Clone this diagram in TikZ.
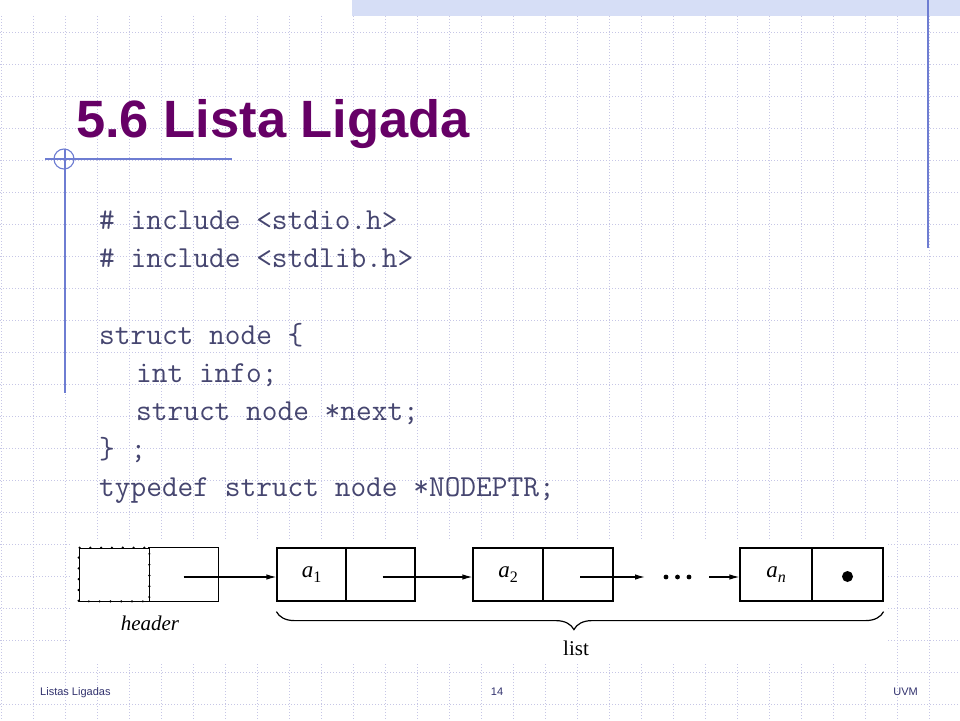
\documentclass[tikz,border=0pt]{standalone}
\usepackage{fontspec}
\setmainfont{Liberation Sans}
\newfontfamily\figfont{Liberation Serif}
\usetikzlibrary{arrows.meta,decorations.pathreplacing}
\definecolor{titlecol}{RGB}{102,0,102}
\definecolor{codecol}{RGB}{70,70,112}
\definecolor{gridcol}{RGB}{198,198,230}
\definecolor{bluecol}{RGB}{110,125,210}
\definecolor{bandcol}{RGB}{214,222,246}
\definecolor{footcol}{RGB}{50,50,110}
\tikzset{
  codeline/.style={anchor=base west, inner sep=0, text=codecol, font=\ttfamily\fontsize{30.5}{32}\selectfont},
  cell/.style={draw, line width=1.2pt, minimum height=53pt, inner sep=0, anchor=center},
  arr/.style={line width=1.2pt, -{Latex[length=10pt,width=5.5pt]}},
  figtext/.style={inner sep=0, font=\figfont\fontsize{20}{22}\selectfont},
  foot/.style={inner sep=0, anchor=base, text=footcol, font=\fontsize{11}{12}\selectfont}
}
\newcommand{\lab}[2]{\figfont\fontsize{23}{24}\selectfont\itshape #1\raisebox{-5pt}{\fontsize{16}{16}\selectfont\upshape #2}}
\begin{document}
\begin{tikzpicture}[x=1pt,y=-1pt]
\useasboundingbox (0,0) rectangle (960,720);
\fill[white] (0,0) rectangle (960,720);
% grid
\foreach \i in {0,...,29} {\draw[gridcol, line width=0.8pt, dash pattern=on 1pt off 2pt] (1+32*\i,16) -- (1+32*\i,720);}
\foreach \j in {1,...,22} {\draw[gridcol, line width=0.8pt, dash pattern=on 1pt off 2pt] (0,32*\j) -- (960,32*\j);}
% top band
\fill[bandcol] (352,0) rectangle (960,16);
% blue lines
\draw[bluecol, line width=1.3pt] (928,0) -- (928,248);
\draw[bluecol, line width=1.1pt] (45,159) -- (232,159);
\draw[bluecol, line width=1.1pt] (65,149) -- (65,393);
\draw[bluecol, line width=1.1pt] (64,159) circle (10);
% title
\node[anchor=base west, inner sep=0, text=titlecol, font=\bfseries\fontsize{52.5}{58}\selectfont] (title) at (76,137) {5.6 Lista Ligada};
% code
\node[codeline] (c1) at (99,229) {\# include <stdio.h>};
\node[codeline] (c2) at (99,267) {\# include <stdlib.h>};
\node[codeline] (c3) at (99,344) {struct node \{};
\node[codeline] (c4) at (136,382) {int info;};
\node[codeline] (c5) at (136,420) {struct node *next;};
\node[codeline] (c6) at (99,458) {\} ;};
\node[codeline] (c7) at (99,496) {typedef struct node *NODEPTR;};
% figure background
\fill[white] (70,540) rectangle (888,664);
% header
\node[cell, line width=0.7pt, minimum width=70pt] (h0) at (114,574.5) {};
\draw[line width=2.4pt, line cap=round, dash pattern=on 0pt off 10.8pt] ([xshift=-5pt]h0.north east) -- (h0.north west) -- (h0.south west) -- (h0.south east) -- (h0.north east);
\node[cell, draw=none, minimum width=69pt] (h1) at (183.5,574.5) {};
\draw[line width=1.2pt] (h1.north west) -- (h1.north east) -- (h1.south east) -- (h1.south west);
\node[figtext, font=\figfont\itshape\fontsize{21}{22}\selectfont] (hl) at (150,623) {header};
% a1
\node[cell, minimum width=69pt] (a1) at (311.5,574.5) {\lab{a}{1}};
\node[cell, minimum width=69pt] (p1) at (380.5,574.5) {};
% a2
\node[cell, minimum width=70pt] (a2) at (508,574.5) {\lab{a}{2}};
\node[cell, minimum width=70pt] (p2) at (578,574.5) {};
% dots
\node[inner sep=0, minimum width=28pt, minimum height=6pt] (dots) at (677.5,577) {};
\foreach \dx in {-11.5,0,11.5} \fill ([xshift=\dx pt]dots.center) circle (2.4);
\coordinate (d1) at (645,577);
\coordinate (d2) at (709,577);
% an
\node[cell, minimum width=72pt] (an) at (776,574.5) {\lab{a}{\itshape n}};
\node[cell, minimum width=71pt] (pn) at (847.5,574.5) {};
\fill (pn.center) ++(0,2) circle (5.5);
% arrows
\draw[arr] (h1.center) ++(0,2.5) coordinate (s0) -- (s0 -| a1.west);
\draw[arr] (p1.center) ++(2,2.5) coordinate (s1) -- (s1 -| a2.west);
\draw[arr] (p2.center) ++(2,2.5) coordinate (s2) -- (s2 -| d1);
\draw[arr] (d2) -- (d2 -| an.west);
% brace
\draw[line width=1.2pt, decorate, decoration={brace, mirror, amplitude=18pt, aspect=0.49}] ([yshift=-10pt]a1.south west) -- ([yshift=-10pt]pn.south east);
\node[figtext, font=\figfont\fontsize{21}{22}\selectfont] (listl) at (576,648) {list};
% footer
\node[foot, anchor=base west] (f1) at (40,695) {Listas Ligadas};
\node[foot] (f2) at (497,695) {14};
\node[foot, anchor=base east] (f3) at (918,695) {UVM};
\end{tikzpicture}
\end{document}
